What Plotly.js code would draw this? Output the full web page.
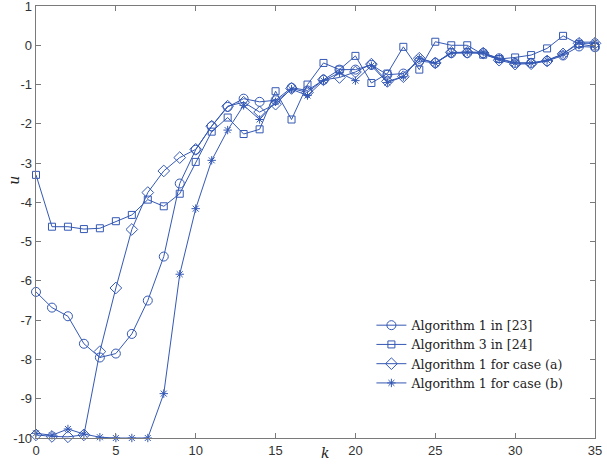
<!DOCTYPE html>
<html>
<head>
<meta charset="utf-8">
<script src="https://cdn.plot.ly/plotly-3.0.1.min.js"></script>
<style>html,body{margin:0;padding:0;background:#fff;}#chart{width:607px;height:464px;}</style>
</head>
<body>
<div id="chart"></div>
<script>
const k = [0,1,2,3,4,5,6,7,8,9,10,11,12,13,14,15,16,17,18,19,20,21,22,23,24,25,26,27,28,29,30,31,32,33,34,35];
const alg1in23 = [-6.28,-6.68,-6.9,-7.6,-7.95,-7.85,-7.35,-6.5,-5.38,-3.52,-2.66,-2.06,-1.57,-1.36,-1.44,-1.4,-1.08,-1.15,-0.88,-0.62,-0.62,-0.5,-0.75,-0.72,-0.4,-0.45,-0.2,-0.2,-0.2,-0.33,-0.45,-0.45,-0.4,-0.26,-0.03,-0.05];
const alg3in24 = [-3.3,-4.62,-4.62,-4.68,-4.66,-4.48,-4.32,-3.93,-4.1,-3.78,-2.97,-2.2,-1.84,-2.26,-2.14,-1.17,-1.89,-1.0,-0.45,-0.62,-0.27,-0.96,-0.72,-0.04,-0.62,0.09,0.0,0.0,-0.24,-0.35,-0.31,-0.25,-0.08,0.24,0.03,-0.03];
const alg1caseA = [-9.92,-9.96,-9.97,-9.92,-7.8,-6.18,-4.69,-3.75,-3.2,-2.86,-2.65,-2.06,-1.55,-1.45,-1.7,-1.5,-1.1,-1.2,-0.88,-0.82,-0.68,-0.48,-0.92,-0.8,-0.33,-0.45,-0.18,-0.18,-0.2,-0.38,-0.48,-0.47,-0.4,-0.22,0.05,0.05];
const alg1caseB = [-9.88,-9.93,-9.77,-9.9,-9.98,-10,-10,-10,-8.87,-5.83,-4.16,-2.93,-2.16,-1.53,-1.89,-1.44,-1.12,-1.28,-0.9,-0.7,-0.9,-0.52,-0.95,-0.8,-0.33,-0.46,-0.2,-0.17,-0.18,-0.36,-0.45,-0.45,-0.38,-0.22,0.08,0.08];
const names = ["Algorithm 1 in [23]","Algorithm 3 in [24]","Algorithm 1 for case (a)","Algorithm 1 for case (b)"];
const xTicks = [0,5,10,15,20,25,30,35];
const yTicks = [-10,-9,-8,-7,-6,-5,-4,-3,-2,-1,0,1];

const col = '#3458b4';
const serif = 'DejaVu Serif';
function tr(y, name, sym, size){
  return {x:k, y:y, name:name, type:'scatter', mode:'lines+markers', cliponaxis:false,
    line:{color:col, width:1},
    marker:{symbol:sym, size:size, color:col, line:{color:col, width:1}}};
}
const data = [
  tr(alg1in23, names[0], 'circle-open', 9),
  tr(alg3in24, names[1], 'square-open', 7),
  tr(alg1caseA, names[2], 'diamond-open', 9),
  tr(alg1caseB, names[3], 'asterisk-open', 7)
];
const axCommon = {showgrid:false, zeroline:false, showline:true, mirror:'ticks', linecolor:'#7a7a7a', linewidth:1.3,
  ticks:'inside', ticklen:5, tickcolor:'#7a7a7a', tickwidth:1, ticklabeloverflow:'allow',
  tickfont:{family:'Liberation Sans', size:13, color:'#333'}};
const layout = {
  width:607, height:464,
  margin:{l:36, r:12, t:6, b:26},
  paper_bgcolor:'#fff', plot_bgcolor:'#fff',
  showlegend:true,
  legend:{x:0.6, y:0.295, xanchor:'left', yanchor:'top', bgcolor:'rgba(255,255,255,0)',
    font:{family:serif, size:12.5, color:'#222'}, tracegroupgap:0, itemwidth:30},
  xaxis:Object.assign({}, axCommon, {range:[0,35], tickmode:'array', tickvals:xTicks, ticktext:xTicks.map(String)}),
  yaxis:Object.assign({}, axCommon, {range:[-10,1], tickmode:'array', tickvals:yTicks, ticktext:yTicks.map(String)}),
  annotations:[
    {text:'k', xref:'paper', yref:'paper', x:(325-36)/559, y:-0.035, xanchor:'center', yanchor:'middle', showarrow:false,
      font:{family:serif, size:14, color:'#222', style:'italic'}},
    {text:'u', xref:'paper', yref:'paper', x:-0.04, y:(438-180)/432, xanchor:'center', yanchor:'middle', showarrow:false, textangle:-90,
      font:{family:serif, size:14, color:'#222', style:'italic'}}
  ]
};
Plotly.newPlot('chart', data, layout, {displayModeBar:false, staticPlot:true});
</script>
</body>
</html>
